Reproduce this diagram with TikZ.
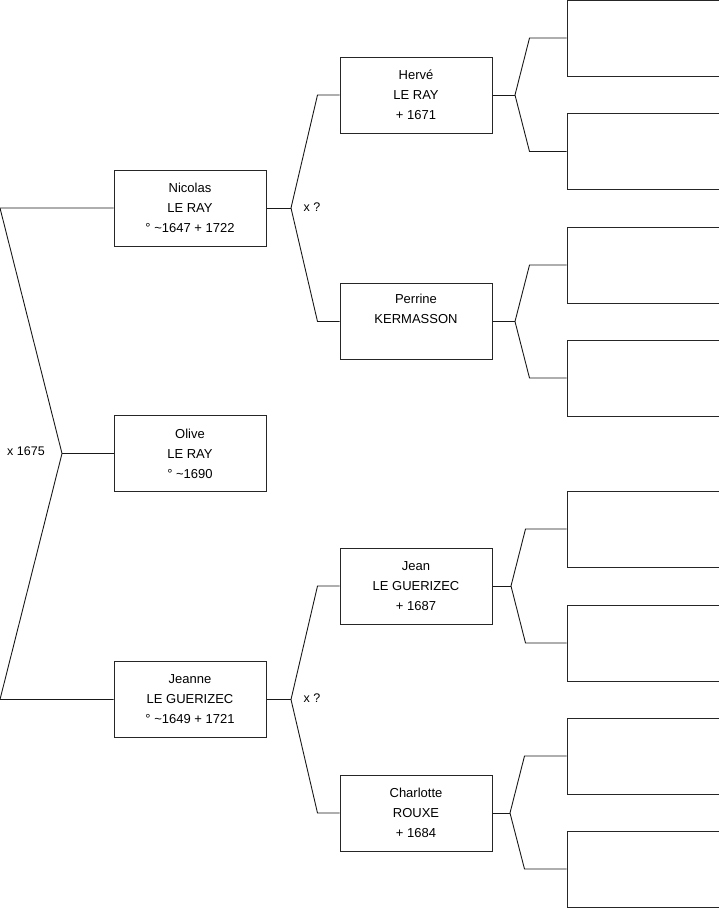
\documentclass[tikz,border=0pt]{standalone}
\usepackage{fontspec}
\setmainfont{Liberation Sans}
\begin{document}
\begin{tikzpicture}[x=1pt,y=-1pt,
  person/.style={draw=black!85, line width=1pt, minimum width=152pt, minimum height=76pt,
    inner sep=0pt, align=center, font=\fontsize{13}{20}\selectfont, text=black},
  link/.style={draw=black!90, line width=0.9pt},
  lbl/.style={font=\fontsize{12.5}{14}\selectfont, text=black, inner sep=0pt}]
\useasboundingbox (0,0) rectangle (719,908);
% level 1
\node[person] (nicolas) at (190,208) {Nicolas\\LE RAY\\° \textasciitilde1647 + 1722};
\node[person] (olive) at (190,453.5) {Olive\\LE RAY\\° \textasciitilde1690};
\node[person] (jeanne) at (190,699.5) {Jeanne\\LE GUERIZEC\\° \textasciitilde1649 + 1721};
% level 2
\node[person] (herve) at (416,95) {Hervé\\LE RAY\\+ 1671};
\node[person] (perrine) at (416,321.5) {Perrine\\KERMASSON\\\strut};
\node[person] (jean) at (416,586) {Jean\\LE GUERIZEC\\+ 1687};
\node[person] (charlotte) at (416,813) {Charlotte\\ROUXE\\+ 1684};
% level 3
\node[person] (b1) at (643,38) {};
\node[person] (b2) at (643,151.5) {};
\node[person] (b3) at (643,265) {};
\node[person] (b4) at (643,378) {};
\node[person] (b5) at (643,529) {};
\node[person] (b6) at (643,643) {};
\node[person] (b7) at (643,756) {};
\node[person] (b8) at (643,869) {};
% labels
\node[lbl] (m0) at (26,451) {x 1675};
\node[lbl] (m1) at (312,207) {x ?};
\node[lbl] (m2) at (312,698) {x ?};
% joints
\coordinate (j0) at (62,453.5);
\coordinate (j1) at (291,208);
\coordinate (j2) at (291,699.5);
\coordinate (j3) at (515,95);
\coordinate (j4) at (515,321.5);
\coordinate (j5) at (511,586);
\coordinate (j6) at (510,813);
% root
\draw[link] (olive.west) -- (j0);
\draw[link] (j0) -- (0,208) -- (nicolas.west);
\draw[link] (j0) -- (0,699.5) -- (jeanne.west);
% nicolas
\draw[link] (nicolas.east) -- (j1);
\draw[link] (j1) -- ([xshift=-22pt]herve.west) -- (herve.west);
\draw[link] (j1) -- ([xshift=-22pt]perrine.west) -- (perrine.west);
% jeanne
\draw[link] (jeanne.east) -- (j2);
\draw[link] (j2) -- ([xshift=-22pt]jean.west) -- (jean.west);
\draw[link] (j2) -- ([xshift=-22pt]charlotte.west) -- (charlotte.west);
% level 2 to 3
\draw[link] (herve.east) -- (j3);
\draw[link] (j3) -- ([xshift=-37pt]b1.west) -- (b1.west);
\draw[link] (j3) -- ([xshift=-37pt]b2.west) -- (b2.west);
\draw[link] (perrine.east) -- (j4);
\draw[link] (j4) -- ([xshift=-37pt]b3.west) -- (b3.west);
\draw[link] (j4) -- ([xshift=-37pt]b4.west) -- (b4.west);
\draw[link] (jean.east) -- (j5);
\draw[link] (j5) -- ([xshift=-41pt]b5.west) -- (b5.west);
\draw[link] (j5) -- ([xshift=-41pt]b6.west) -- (b6.west);
\draw[link] (charlotte.east) -- (j6);
\draw[link] (j6) -- ([xshift=-42pt]b7.west) -- (b7.west);
\draw[link] (j6) -- ([xshift=-42pt]b8.west) -- (b8.west);
\end{tikzpicture}
\end{document}
